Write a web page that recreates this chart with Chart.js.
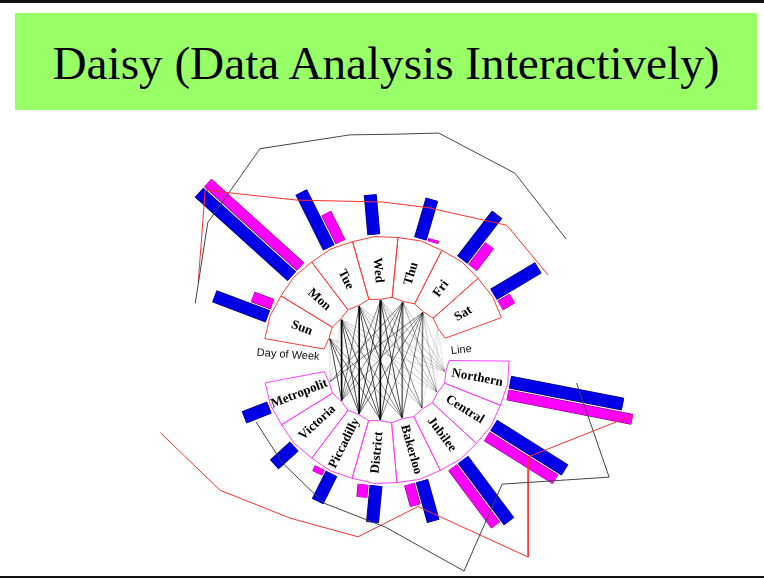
<!DOCTYPE html>
<html>
<head>
<meta charset="utf-8">
<title>Daisy</title>
<script src="https://cdn.jsdelivr.net/npm/chart.js@4/dist/chart.umd.js"></script>
<style>
  html, body { margin: 0; padding: 0; background: #fff; }
  #page { position: relative; width: 764px; height: 580px; overflow: hidden; }
  #topRule { position: absolute; left: 0; top: 0; width: 764px; height: 3px; background: #111; }
  #bottomRule { position: absolute; left: 0; top: 576px; width: 764px; height: 2px; background: #111; }
  #banner {
    position: absolute; left: 15px; top: 13px; width: 742px; height: 97px;
    background: #99ff66; color: #000; text-align: center;
    font: 47.2px/100px "Liberation Serif", serif; white-space: nowrap;
  }
  canvas { position: absolute; left: 0; top: 0; }
</style>
</head>
<body>
<div id="page">
  <div id="topRule"></div>
  <div id="banner">Daisy (Data Analysis Interactively)</div>
  <div id="bottomRule"></div>
  <canvas id="daisy" width="764" height="580"></canvas>
</div>
<script>
// categories
const days = ['Sun', 'Mon', 'Tue', 'Wed', 'Thu', 'Fri', 'Sat'];
const lines = ['Northern', 'Central', 'Jubilee', 'Bakerloo', 'District', 'Piccadilly', 'Victoria', 'Metropolit'];

// bar lengths
const dayBlue = [57, 125, 62, 40, 41, 57, 52];
const dayMagenta = [21, 125, 32, 0, 3, 28, 14];
const lineBlue = [115, 84, 77, 42, 37, 31, 27, 27];
const lineMagenta = [127, 81, 72, 22, 13, 6, 0, 0];

// outer polylines: bearing (deg clockwise from north) and radius of each vertex
const dayRedAngle = [-67.7, -46.8, -29.1, -1.1, 15.4, 41.9, 62.3];
const dayRedValue = [203, 248, 183, 158, 158, 181, 183];
const dayBlackAngle = [-73.4, -52.4, -30.8, -9.1, 2.3, 13.1, 34.6, 56.1];
const dayBlackValue = [199, 225, 246, 228, 226, 233, 227, 217];
const lineRedAngle = [102.6, 124.3, 144.2, 167.7, 189, 211.3, 231.9, 252.1];
const lineRedValue = [253, 172, 243, 150, 179, 185, 211, 237];
const lineBlackAngle = [96.9, 117.7, 136.9, 159.7, 180.3, 203.4, 225.3, 244.5];
const lineBlackValue = [192, 252, 170, 225, 167, 156, 146, 144];

// link strength day x line (columns follow `lines`), 0 = no link drawn
const linkSun = [0.15, 0.15, 0.00, 0.45, 0.60, 0.75, 0.80, 0.20];
const linkMon = [0.20, 0.25, 0.25, 0.50, 0.75, 0.80, 1.00, 0.15];
const linkTue = [0.25, 0.25, 0.40, 0.75, 0.80, 1.00, 0.60, 0.00];
const linkWed = [0.30, 0.30, 0.50, 0.80, 1.00, 0.80, 0.50, 0.00];
const linkThu = [0.25, 0.40, 0.00, 0.55, 0.80, 0.70, 0.50, 0.60];
const linkFri = [0.20, 0.25, 0.50, 0.60, 0.50, 0.60, 0.50, 0.60];
const linkSat = [0.12, 0.12, 0.12, 0.00, 0.00, 0.00, 0.00, 0.00];
const links = [linkSun, linkMon, linkTue, linkWed, linkThu, linkFri, linkSat];
const thickLinks = [[1, 6], [2, 5], [3, 4], [4, 3], [5, 2]]; // [day, line]

// ring geometry
const INNER_R = 63, OUTER_R = 123, BAR_R = 126, NODE_R = 60;
const DAY_LABEL_R = 90, LINE_LABEL_R = 93;
const DAY_START = -80, DAY_STEP = 21.4;
const LINE_START = 90.5, LINE_STEP = 21.1;

const dayAngle = i => DAY_START + (i + 0.5) * DAY_STEP;
const lineAngle = i => LINE_START + (i + 0.5) * LINE_STEP;

// bearing + radius -> scale coordinates, off = sideways shift (clockwise)
function polar(deg, r, off) {
  const a = deg * Math.PI / 180;
  const o = off || 0;
  return { x: r * Math.sin(a) + o * Math.cos(a), y: r * Math.cos(a) - o * Math.sin(a) };
}

// bottom to top, reversed at the end because Chart.js paints the first dataset last
const stack = [];

function addLine(data, color, width) {
  stack.push({
    data, borderColor: color, borderWidth: width, showLine: true,
    pointRadius: 0, tension: 0, fill: false, clip: false, borderCapStyle: 'butt',
  });
}

function addBar(deg, value, off, color, edge, width) {
  if (!value) return;
  const bar = [polar(deg, BAR_R, off), polar(deg, BAR_R + value, off)];
  addLine(bar, edge, width + 1);
  addLine(bar, color, width);
}

function addSector(start, step, color) {
  const end = start + step, mid = start + step / 2;
  addLine([
    polar(start, INNER_R), polar(start, OUTER_R), polar(mid, OUTER_R + 1), polar(end, OUTER_R),
    polar(end, INNER_R), polar(mid, INNER_R - 2), polar(start, INNER_R),
  ], color, 1);
}

days.forEach((_, i) => {
  addBar(dayAngle(i), dayBlue[i], -1, '#0000e6', '#10104a', 12);
  addBar(dayAngle(i), dayMagenta[i], 12, '#ff00ff', '#700070', 10);
});
lines.forEach((_, i) => {
  addBar(lineAngle(i), lineBlue[i], -2, '#0000e6', '#10104a', 12);
  addBar(lineAngle(i), lineMagenta[i], 11, '#ff00ff', '#700070', 10);
});

links.forEach((row, d) => {
  row.forEach((w, l) => {
    if (!w) return;
    const thick = thickLinks.some(t => t[0] === d && t[1] === l);
    addLine([polar(dayAngle(d), NODE_R), polar(lineAngle(l), NODE_R)], `rgba(0,0,0,${w})`, thick ? 1.6 : 0.9);
  });
});

days.forEach((_, i) => addSector(DAY_START + i * DAY_STEP, DAY_STEP, '#ff3c3c'));
lines.forEach((_, i) => addSector(LINE_START + i * LINE_STEP, LINE_STEP, '#ff40ff'));

addLine(dayRedAngle.map((a, i) => polar(a, dayRedValue[i])), '#ff3030', 1);
addLine(dayBlackAngle.map((a, i) => polar(a, dayBlackValue[i])), '#444', 1);
addLine(lineRedAngle.map((a, i) => polar(a, lineRedValue[i])), '#ff3030', 1);
addLine(lineBlackAngle.map((a, i) => polar(a, lineBlackValue[i])), '#444', 1);

function drawText(chart, text, deg, r, rotation, font, color) {
  const { ctx, scales } = chart;
  const p = polar(deg, r);
  ctx.save();
  ctx.translate(scales.x.getPixelForValue(p.x), scales.y.getPixelForValue(p.y));
  ctx.rotate(rotation * Math.PI / 180);
  ctx.font = font;
  ctx.fillStyle = color;
  ctx.textAlign = 'center';
  ctx.textBaseline = 'middle';
  ctx.fillText(text, 0, 0);
  ctx.restore();
}

const ringLabels = {
  id: 'ringLabels',
  afterDatasetsDraw(chart) {
    const font = 'bold 13px "Liberation Serif", serif';
    days.forEach((d, i) => {
      const a = dayAngle(i);
      drawText(chart, d, a, DAY_LABEL_R, a < 0 ? a + 90 : a - 90, font, '#000');
    });
    lines.forEach((l, i) => {
      const a = lineAngle(i);
      drawText(chart, l, a, LINE_LABEL_R, a < 180 ? a - 90 : a - 270, font, '#000');
    });
    const small = '11px "Liberation Sans", sans-serif';
    drawText(chart, 'Day of Week', -87, 98, 4, small, '#111');
    drawText(chart, 'Line', 82.4, 76, -6, small, '#111');
  },
};

new Chart(document.getElementById('daisy'), {
  type: 'scatter',
  data: { datasets: stack.reverse() },
  plugins: [ringLabels],
  options: {
    responsive: false,
    animation: false,
    layout: { padding: 0 },
    scales: {
      x: { type: 'linear', display: false, min: -386, max: 378 },
      y: { type: 'linear', display: false, min: -220, max: 360 },
    },
    plugins: { legend: { display: false }, tooltip: { enabled: false }, title: { display: false } },
  },
});
</script>
</body>
</html>
